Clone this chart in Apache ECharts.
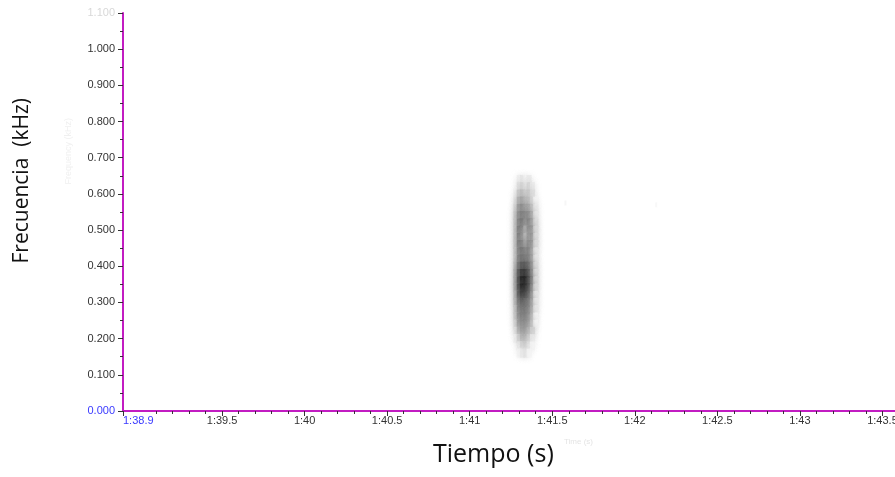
<!DOCTYPE html>
<html>
<head>
<meta charset="utf-8">
<script src="https://cdn.jsdelivr.net/npm/echarts@6/dist/echarts.min.js"></script>
<style>
  html, body { margin: 0; padding: 0; background: #fff; }
  #chart { width: 895px; height: 477px; }
</style>
</head>
<body>
<div id="chart"></div>
<script>
  // time in seconds (1:38.9 = 98.9 s), frequency in kHz
  var timeLabelValues = [98.9, 99.5, 100, 100.5, 101, 101.5, 102, 102.5, 103, 103.5];
  var timeLabels = ['1:38.9', '1:39.5', '1:40', '1:40.5', '1:41', '1:41.5', '1:42', '1:42.5', '1:43', '1:43.5'];
  var freqLabels = ['0.000', '0.100', '0.200', '0.300', '0.400', '0.500', '0.600', '0.700', '0.800', '0.900', '1.000', '1.100'];

  // spectrogram blob: columns in time, rows in frequency
  var blobTimes = [101.28, 101.30, 101.32, 101.34, 101.36, 101.38, 101.40];
  var blobFreqs = [0.64, 0.62, 0.60, 0.58, 0.56, 0.54, 0.52, 0.50, 0.48, 0.46, 0.44, 0.42, 0.40,
                   0.38, 0.36, 0.34, 0.32, 0.30, 0.28, 0.26, 0.24, 0.22, 0.20, 0.18, 0.16];
  var blobLevels = [
    [0, 0.08, 0.12, 0.05, 0.10, 0, 0],
    [0, 0.15, 0.20, 0.10, 0.20, 0.10, 0],
    [0.05, 0.25, 0.30, 0.20, 0.25, 0.15, 0],
    [0.10, 0.35, 0.40, 0.30, 0.30, 0.20, 0.05],
    [0.15, 0.45, 0.50, 0.40, 0.40, 0.30, 0.10],
    [0.20, 0.50, 0.55, 0.50, 0.50, 0.40, 0.10],
    [0.20, 0.55, 0.60, 0.45, 0.55, 0.45, 0.15],
    [0.20, 0.60, 0.55, 0.30, 0.50, 0.50, 0.15],
    [0.20, 0.60, 0.50, 0.25, 0.45, 0.50, 0.15],
    [0.20, 0.60, 0.55, 0.35, 0.50, 0.50, 0.15],
    [0.20, 0.55, 0.60, 0.50, 0.55, 0.45, 0.10],
    [0.20, 0.55, 0.60, 0.55, 0.55, 0.45, 0.10],
    [0.25, 0.60, 0.70, 0.70, 0.65, 0.50, 0.15],
    [0.30, 0.70, 0.85, 0.85, 0.75, 0.55, 0.15],
    [0.30, 0.75, 0.95, 0.95, 0.80, 0.60, 0.15],
    [0.30, 0.75, 0.95, 0.90, 0.80, 0.55, 0.15],
    [0.25, 0.70, 0.85, 0.80, 0.70, 0.50, 0.10],
    [0.25, 0.60, 0.70, 0.65, 0.60, 0.45, 0.10],
    [0.20, 0.55, 0.60, 0.60, 0.55, 0.40, 0.10],
    [0.20, 0.50, 0.55, 0.55, 0.50, 0.35, 0.05],
    [0.15, 0.45, 0.50, 0.50, 0.45, 0.30, 0.05],
    [0.10, 0.35, 0.45, 0.45, 0.35, 0.20, 0],
    [0.05, 0.20, 0.35, 0.35, 0.25, 0.10, 0],
    [0, 0.10, 0.20, 0.25, 0.15, 0.05, 0],
    [0, 0.05, 0.10, 0.15, 0.05, 0, 0]
  ];
  // two faint specks to the right of the call
  var speckTimes = [101.58, 102.13];
  var speckFreqs = [0.575, 0.57];
  var speckLevels = [0.05, 0.04];

  function grey(level) {
    var g = Math.round(255 * (1 - level * 0.9));
    return 'rgb(' + g + ',' + g + ',' + g + ')';
  }

  var blobData = [];
  blobFreqs.forEach(function (f, r) {
    blobTimes.forEach(function (t, c) {
      var lv = blobLevels[r][c];
      if (lv > 0) {
        blobData.push({
          value: [t, f, lv],
          itemStyle: {color: grey(lv), shadowColor: grey(lv), shadowBlur: 6}
        });
      }
    });
  });
  var speckData = speckTimes.map(function (t, i) {
    return {value: [t, speckFreqs[i], speckLevels[i]], itemStyle: {color: grey(speckLevels[i])}};
  });

  var minorTimeTicks = [];
  for (var k = 990; k <= 1035; k++) {
    if (k % 5 !== 0) minorTimeTicks.push(k / 10);
  }

  var chart = echarts.init(document.getElementById('chart'));
  var magenta = '#c21cc2';
  var option = {
    animation: false,
    backgroundColor: '#fff',
    grid: {left: 123, right: 0, top: 13, bottom: 66, outerBoundsMode: 'none', containLabel: false},
    xAxis: [
      {
        type: 'value',
        min: 98.9,
        max: 103.576,
        axisLine: {show: true, lineStyle: {color: magenta, width: 2}},
        axisTick: {show: true, customValues: timeLabelValues, length: 5, lineStyle: {color: '#333'}},
        axisLabel: {
          customValues: timeLabelValues,
          fontFamily: 'Liberation Sans',
          fontSize: 11,
          color: '#333',
          margin: 4,
          alignMinLabel: 'left',
          formatter: function (v) {
            var i = timeLabelValues.indexOf(v);
            var s = i >= 0 ? timeLabels[i] : '';
            return i === 0 ? '{first|' + s + '}' : s;
          },
          rich: {first: {color: '#3a3aff', fontSize: 11, fontFamily: 'Liberation Sans'}}
        },
        splitLine: {show: false}
      },
      {
        type: 'value',
        position: 'bottom',
        min: 98.9,
        max: 103.576,
        axisLine: {show: false},
        axisTick: {show: true, customValues: minorTimeTicks, length: 3, lineStyle: {color: '#333'}},
        axisLabel: {show: false},
        splitLine: {show: false}
      }
    ],
    yAxis: {
      type: 'value',
      min: 0,
      max: 1.1,
      interval: 0.1,
      axisLine: {show: true, lineStyle: {color: magenta, width: 2}},
      axisTick: {show: true, length: 5, lineStyle: {color: '#333'}},
      minorTick: {show: true, splitNumber: 2, length: 3, lineStyle: {color: '#333'}},
      axisLabel: {
        fontFamily: 'Liberation Sans',
        fontSize: 11,
        color: '#333',
        margin: 8,
        formatter: function (v) {
          var i = Math.round(v * 10);
          if (i === 0) return '{first|' + freqLabels[i] + '}';
          if (i === 11) return '{last|' + freqLabels[i] + '}';
          return freqLabels[i];
        },
        rich: {
          first: {color: '#3a3aff', fontSize: 11, fontFamily: 'Liberation Sans'},
          last: {color: '#d8d8d8', fontSize: 11, fontFamily: 'Liberation Sans'}
        }
      },
      splitLine: {show: false}
    },
    graphic: [
      {type: 'text', left: 12, top: 98, rotation: Math.PI / 2,
        style: {text: 'Frecuencia  (kHz)', font: '21px "Open Sans"', fill: '#111'}},
      {type: 'text', left: 433, top: 442,
        style: {text: 'Tiempo (s)', font: '25px "Open Sans"', fill: '#111'}},
      {type: 'text', left: 564, top: 438,
        style: {text: 'Time (s)', font: '8px "Liberation Sans"', fill: '#e4e4e4'}},
      {type: 'text', left: 64, top: 118, rotation: Math.PI / 2,
        style: {text: 'Frequency (kHz)', font: '9px "Liberation Sans"', fill: '#f0f0f0'}}
    ],
    series: [
      {
        type: 'scatter',
        symbol: 'rect',
        symbolSize: [5, 9],
        data: blobData,
        z: 1
      },
      {
        type: 'scatter',
        symbol: 'rect',
        symbolSize: [2, 5],
        data: speckData,
        z: 1
      }
    ]
  };
  chart.setOption(option);
</script>
</body>
</html>
